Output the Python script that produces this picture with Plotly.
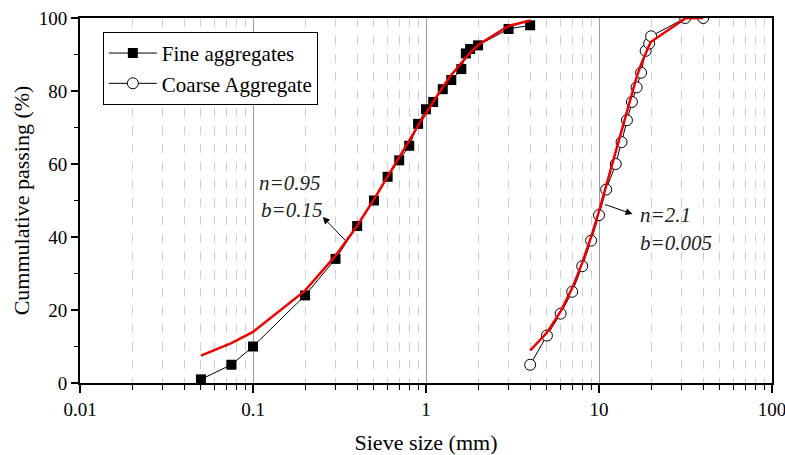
import plotly.graph_objects as go

# Fine aggregates (measured)
fine_x = [0.05, 0.075, 0.1, 0.2, 0.3, 0.4, 0.5, 0.6, 0.7, 0.8, 0.9, 1.0, 1.1, 1.25, 1.4, 1.6, 1.7, 1.8, 2.0, 3.0, 4.0]
fine_y = [1, 5, 10, 24, 34, 43, 50, 56.5, 61, 65, 71, 75, 77, 80.5, 83, 86, 90.3, 91.5, 92.5, 97, 98]
# Fine aggregates fitted curve (red)
fine_fit = [7.5, 10.9, 14, 25.3, 34.9, 43.1, 50.3, 56.4, 61.8, 66.4, 70.5, 74, 77.1, 81.1, 84.4, 87.8, 89.3, 90.5, 92.6, 97.8, 99.3]

# Coarse aggregate (measured)
coarse_x = [4, 5, 6, 7, 8, 9, 10, 11, 12.5, 13.5, 14.5, 15.5, 16.5, 17.5, 18.6, 19.5, 20, 31.5, 40]
coarse_y = [5, 13, 19, 25, 32, 39, 46, 53, 60, 66, 72, 77, 81, 85, 91, 93, 95, 100, 100]
# Coarse aggregate fitted curve (red)
coarse_fit = [8.9, 13.8, 19.6, 26, 32.9, 40, 47, 54, 63.8, 69.8, 75, 79.8, 83.8, 87.3, 90.4, 92.5, 93.5, 99.9, 100]

x_tickvals = [0.01, 0.1, 1, 10, 100]
x_ticktext = ["0.01", "0.1", "1", "10", "100"]
y_tickvals = [0, 20, 40, 60, 80, 100]

FONT = "Liberation Serif, Times New Roman, serif"

fig = go.Figure()

fig.add_trace(go.Scatter(
    x=fine_x, y=fine_y, mode="lines+markers", name="Fine aggregates",
    line=dict(color="black", width=1),
    marker=dict(symbol="square", size=10, color="black"),
))
fig.add_trace(go.Scatter(
    x=coarse_x, y=coarse_y, mode="lines+markers", name="Coarse Aggregate",
    line=dict(color="black", width=1),
    marker=dict(symbol="circle", size=11, color="white", line=dict(color="black", width=1)),
))
fig.add_trace(go.Scatter(
    x=fine_x, y=fine_fit, mode="lines", showlegend=False,
    line=dict(color="#ee0000", width=2.5),
))
fig.add_trace(go.Scatter(
    x=coarse_x, y=coarse_fit, mode="lines", showlegend=False,
    line=dict(color="#ee0000", width=2.5),
))

# annotations
fig.add_annotation(x=-0.597, y=45.5, xref="x", yref="y", ax=24, ay=25,
                   showarrow=True, arrowhead=2, arrowsize=1.4, arrowwidth=1, arrowcolor="black", text="")
fig.add_annotation(x=1.194, y=46.3, xref="x", yref="y", ax=-29, ay=-10,
                   showarrow=True, arrowhead=2, arrowsize=1.4, arrowwidth=1, arrowcolor="black", text="")
for txt, xp, yp in [("n=0.95", -0.975, 54.8), ("b=0.15", -0.965, 47.4),
                    ("n=2.1", 1.225, 46.0), ("b=0.005", 1.227, 38.4)]:
    fig.add_annotation(x=xp, y=yp, xref="x", yref="y", text="<i>" + txt + "</i>", showarrow=False,
                       xanchor="left", yanchor="middle",
                       font=dict(family=FONT, size=21, color="#222"), )

fig.update_layout(
    width=785, height=455,
    margin=dict(l=80, r=13, t=18, b=72),
    plot_bgcolor="white", paper_bgcolor="white",
    font=dict(family=FONT, color="black"),
    showlegend=True,
    legend=dict(x=0.033, y=0.962, xanchor="left", yanchor="top",
                bordercolor="black", borderwidth=1, bgcolor="white",
                font=dict(family=FONT, size=21, color="black"),
                tracegroupgap=0, itemwidth=48),
    xaxis=dict(
        type="log", range=[-2, 2], tickvals=x_tickvals, ticktext=x_ticktext,
        automargin=False, ticklabeloverflow="allow",
        showline=True, linecolor="black", linewidth=2, mirror=True,
        ticks="outside", ticklen=8, tickwidth=1.5, tickcolor="black",
        showgrid=True, gridcolor="#9a9a9a", gridwidth=1,
        minor=dict(dtick="D1", ticks="outside", ticklen=5, tickwidth=1, tickcolor="black",
                   showgrid=True, gridcolor="#cfcfcf", griddash="dash", gridwidth=1),
        tickfont=dict(family=FONT, size=19, color="black"),
        title=dict(text="Sieve size (mm)", font=dict(family=FONT, size=22, color="black"), standoff=18),
        zeroline=False,
    ),
    yaxis=dict(
        range=[0, 100], tickvals=y_tickvals,
        automargin=False, ticklabeloverflow="allow",
        showline=True, linecolor="black", linewidth=2, mirror=True,
        ticks="outside", ticklen=7, tickwidth=1.5, tickcolor="black",
        showgrid=False,
        minor=dict(dtick=10, ticks="outside", ticklen=4, tickwidth=1, tickcolor="black", showgrid=False),
        tickfont=dict(family=FONT, size=19, color="black"),
        title=dict(text="Cummulative passing (%)", font=dict(family=FONT, size=22, color="black"), standoff=3),
        zeroline=False,
    ),
)

fig.write_html("out.html")
